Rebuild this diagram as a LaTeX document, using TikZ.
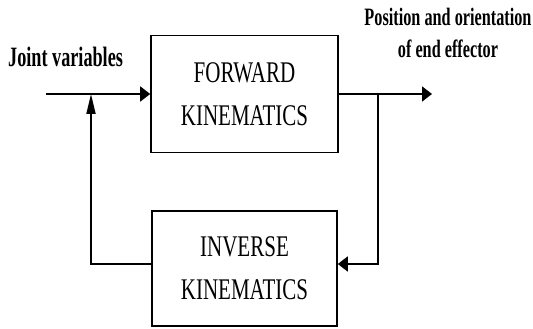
\documentclass[tikz,border=0pt]{standalone}
\usepackage{fontspec}
\setmainfont{Liberation Serif}[FakeStretch=0.7]
\newfontfamily\lblfont{Liberation Serif}[FakeStretch=0.65]
\usetikzlibrary{arrows.meta}
\begin{document}
\begin{tikzpicture}[x=1pt,y=1pt,
    blk/.style={draw, line width=1.6pt, minimum width=187pt, minimum height=117pt, align=center, inner sep=0pt, font=\fontsize{30}{43}\selectfont},
    harrow/.style={line width=1.8pt, -{Triangle[length=10pt,width=15pt]}},
    varrow/.style={line width=1.8pt, -{Triangle[length=20pt,width=9pt]}}]
    \useasboundingbox (0,0) rectangle (533,329);

        % blocks
        \node[blk] (fk) at (244.5,235) {FORWARD\\KINEMATICS};
        \node[blk, minimum width=185pt, minimum height=115pt] (ik) at (244.5,60.5) {INVERSE\\KINEMATICS};

        % labels
        \node[anchor=base west, inner sep=0pt, font=\lblfont\bfseries\fontsize{28}{32}\selectfont] (jv) at (8,262) {Joint variables};
        \node[align=center, inner sep=0pt, font=\lblfont\bfseries\fontsize{25}{32}\selectfont] (pe) at (448,296.5) {Position and orientation\\of end effector};

        % connectors
        \coordinate (jin) at (46,235);
        \coordinate (pout) at (432,235);
        \coordinate (tap) at (378,235);
        \coordinate (rb) at (378,65);
        \coordinate (lb) at (91,65);
        \draw[harrow] (jin) -- (fk.west);
        \draw[harrow] (fk.east) -- (pout);
        \draw[harrow] (tap) -- (rb) -- (ik.east |- rb);
        \draw[varrow] (ik.west |- lb) -- (lb) -- (lb |- jin);
\end{tikzpicture}
\end{document}
